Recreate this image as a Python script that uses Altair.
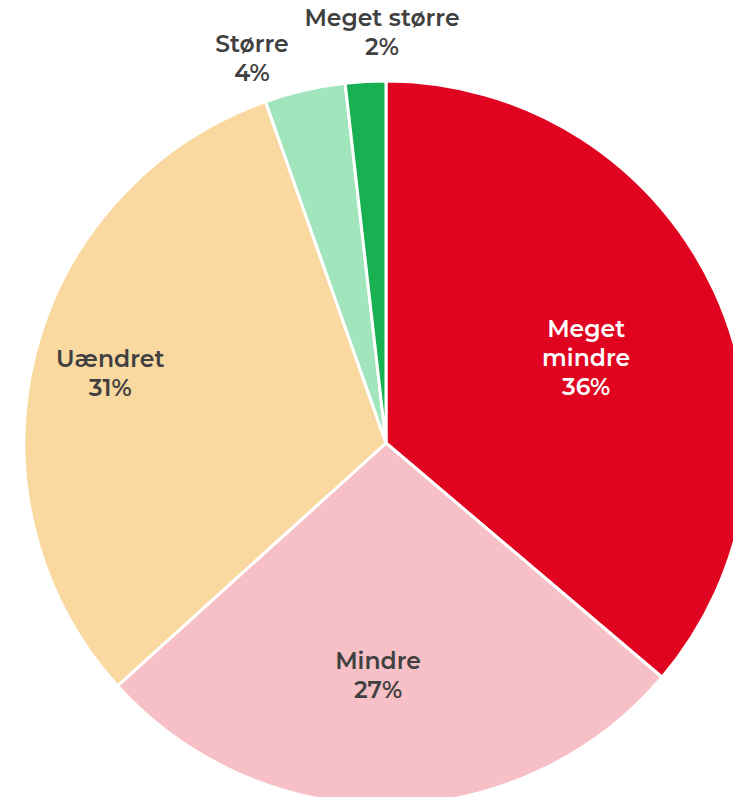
import altair as alt
import pandas as pd

categories = ["Meget mindre", "Mindre", "Uændret", "Større", "Meget større"]
values = [36.2, 27.1, 31.3, 3.6, 1.8]
label_lines = [["Meget", "mindre", "36%"], ["Mindre", "27%"], ["Uændret", "31%"], ["Større", "4%"], ["Meget større", "2%"]]
colors = ["#E00420", "#F6C0C6", "#F9D9A0", "#A0E5BC", "#19B052"]
text_colors = ["#FFFFFF", "#404040", "#404040", "#404040", "#404040"]

# label layout tweaks (radius of first line in px, angular shift in percent units)
label_radius = [230, 219, 288, 420, 424]
label_shift = [-1.3, 0.83, 0.7, -1.57, 0.75]

R = 362
CX, CY = 378, 435

cum = []
s = 0
for v in values:
    cum.append(s + v / 2)
    s += v

df = pd.DataFrame({
    "cat": categories,
    "value": values,
    "idx": list(range(len(categories))),
    "lines": label_lines,
    "tcolor": text_colors,
    "lt": [c + d for c, d in zip(cum, label_shift)],
    "lr": label_radius,
})

theta_scale = alt.Scale(domain=[0, 100])

arcs = alt.Chart(df).mark_arc(stroke="white", strokeWidth=3).encode(
    theta=alt.Theta("value:Q", stack=True, scale=theta_scale),
    color=alt.Color("cat:N", scale=alt.Scale(domain=categories, range=colors), legend=None),
    order=alt.Order("idx:O"),
    x=alt.value(CX),
    y=alt.value(CY),
    radius=alt.value(R),
)

texts = alt.Chart(df).mark_text(
    font="Montserrat, 'Open Sans', sans-serif", fontSize=23.5, fontWeight=600,
    lineHeight=29, align="center", baseline="middle",
).encode(
    theta=alt.Theta("lt:Q", stack=None, scale=theta_scale),
    radius=alt.Radius("lr:Q", scale=None),
    text="lines",
    color=alt.Color("tcolor:N", scale=None),
    x=alt.value(CX),
    y=alt.value(CY),
)

chart = alt.layer(arcs, texts).properties(
    width=725, height=789, padding=0, autosize="none"
).configure_view(stroke=None)

chart.save("out.html", embed_options={"renderer": "svg", "actions": False})
